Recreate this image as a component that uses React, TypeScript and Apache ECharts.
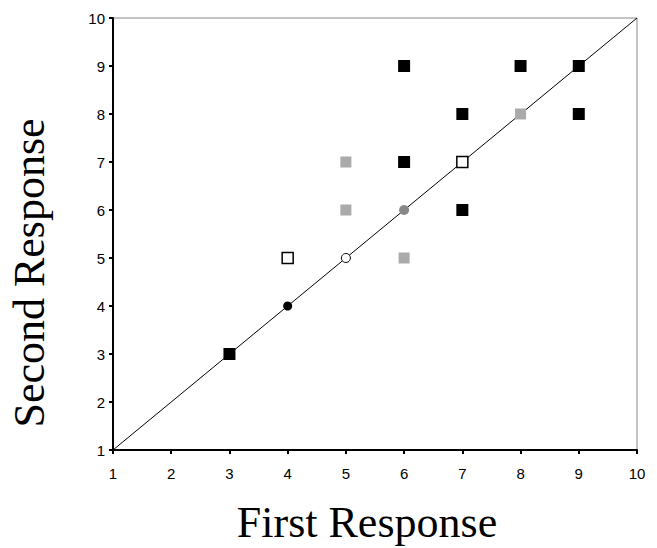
import React, { useEffect, useRef } from "react";
import * as echarts from "echarts";

const blackSquares: number[][] = [[3, 3], [6, 9], [8, 9], [9, 9], [7, 8], [9, 8], [6, 7], [7, 6]];
const graySquares: number[][] = [[5, 7], [5, 6], [6, 5], [8, 8]];
const openSquares: number[][] = [[4, 5], [7, 7]];
const blackCircles: number[][] = [[4, 4]];
const grayCircles: number[][] = [[6, 6]];
const openCircles: number[][] = [[5, 5]];
const identityLine: number[][] = [[1, 1], [10, 10]];
const xTitle = "First Response";
const yTitle = "Second Response";

export default function App() {
  const ref = useRef<HTMLDivElement>(null);
  useEffect(() => {
    if (!ref.current) return;
    const chart = echarts.init(ref.current, null, { renderer: "svg" });
    const axisCommon = {
      type: "value" as const,
      min: 1,
      max: 10,
      interval: 1,
      axisLine: { show: true, lineStyle: { color: "#000", width: 2 } },
      axisTick: { show: true, inside: false, length: 4, lineStyle: { color: "#000", width: 2 } },
      splitLine: { show: false },
    };
    chart.setOption({
      animation: false,
      backgroundColor: "#fff",
      grid: { left: 113, right: 20, top: 18, bottom: 98, show: true, borderColor: "#888", borderWidth: 1 },
      xAxis: {
        ...axisCommon,
        axisLabel: { color: "#000", fontFamily: "Liberation Sans", fontSize: 15, margin: 16 },
      },
      yAxis: {
        ...axisCommon,
        axisLabel: { color: "#000", fontFamily: "Liberation Sans", fontSize: 15, margin: 8 },
      },
      graphic: [
        {
          type: "text",
          x: 367,
          y: 522,
          style: {
            text: xTitle,
            font: "44px 'Liberation Serif'",
            fill: "#000",
            textAlign: "center",
            textVerticalAlign: "middle",
          },
        },
        {
          type: "text",
          x: 29,
          y: 273,
          rotation: Math.PI / 2,
          style: {
            text: yTitle,
            font: "44px 'Liberation Serif'",
            fill: "#000",
            textAlign: "center",
            textVerticalAlign: "middle",
          },
        },
      ],
      series: [
        {
          type: "line",
          data: identityLine,
          symbol: "none",
          lineStyle: { color: "#000", width: 1 },
          z: 1,
        },
        {
          type: "scatter",
          data: blackSquares,
          symbol: "rect",
          symbolSize: 12,
          itemStyle: { color: "#000", opacity: 1 },
          z: 3,
        },
        {
          type: "scatter",
          data: graySquares,
          symbol: "rect",
          symbolSize: 11,
          itemStyle: { color: "#aaa", opacity: 1 },
          z: 3,
        },
        {
          type: "scatter",
          data: openSquares,
          symbol: "rect",
          symbolSize: 11,
          itemStyle: { color: "#fff", borderColor: "#000", borderWidth: 1.5, opacity: 1 },
          z: 3,
        },
        {
          type: "scatter",
          data: blackCircles,
          symbol: "circle",
          symbolSize: 9,
          itemStyle: { color: "#000", opacity: 1 },
          z: 3,
        },
        {
          type: "scatter",
          data: grayCircles,
          symbol: "circle",
          symbolSize: 10,
          itemStyle: { color: "#888", opacity: 1 },
          z: 3,
        },
        {
          type: "scatter",
          data: openCircles,
          symbol: "circle",
          symbolSize: 9,
          itemStyle: { color: "#fff", borderColor: "#000", borderWidth: 1, opacity: 1 },
          z: 3,
        },
      ],
    });
    return () => chart.dispose();
  }, []);
  return <div ref={ref} style={{ width: 657, height: 548, position: "absolute", left: 0, top: 0 }} />;
}
